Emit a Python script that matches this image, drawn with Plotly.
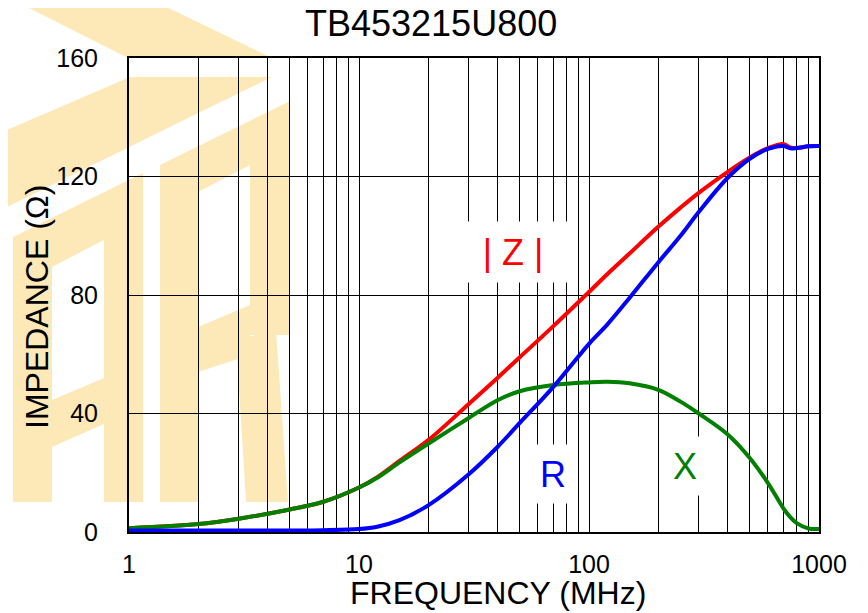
import plotly.graph_objects as go

# ---------------- data ----------------
freq_mhz = [1, 2, 3, 5, 7, 10, 12, 15, 20, 30, 40, 50, 70, 100, 120, 150,
            200, 250, 300, 400, 500, 600, 700, 750, 800, 900, 1000]
z_ohm = [1.3, 2.7, 4.5, 7.6, 10.2, 15.0, 18.5, 24.0, 31.0, 43.2, 52.0, 59.0,
         69.5, 81.0, 87.0, 94.0, 103.0, 109.5, 114.5, 121.5, 126.4, 129.6,
         131.0, 129.8, 129.6, 130.2, 130.3]
r_ohm = [0.5, 0.5, 0.5, 0.5, 0.6, 1.0, 1.8, 4.0, 9.0, 19.5, 28.7, 36.8,
         49.0, 63.5, 70.0, 79.0, 91.0, 100.0, 108.0, 119.5, 126.0, 129.3,
         130.3, 129.5, 129.6, 130.2, 130.3]
x_ohm = [1.3, 2.7, 4.5, 7.6, 10.2, 15.0, 18.3, 23.5, 29.8, 38.5, 44.5, 47.5,
         49.6, 50.5, 50.7, 50.2, 48.0, 44.0, 40.0, 33.0, 25.0, 16.5, 8.0,
         5.0, 3.0, 1.2, 1.0]

x_tick_vals = [1, 10, 100, 1000]
x_tick_text = ["1", "10", "100", "1000"]
y_tick_vals = [0, 40, 80, 120, 160]

title_text = "TB453215U800"
x_title = "FREQUENCY (MHz)"
y_title = "IMPEDANCE (Ω)"
series_labels = ["| Z |", "R", "X"]

# ---------------- layout helpers ----------------
PAGE_W, PAGE_H = 868, 613
OFF = 8                              # browser body margin
L, R_, T, B = 129, 819, 58, 532      # plot area in page pixels


def pxx(x):
    return (x - L) / (R_ - L)


def pxy(y):
    return (B - y) / (B - T)


FONT = "Liberation Sans, Arial, sans-serif"
RED, BLUE, GREEN = "#ff0000", "#0000ff", "#008000"

fig = go.Figure()
fig.add_trace(go.Scatter(x=freq_mhz, y=z_ohm, mode="lines",
                         line=dict(color=RED, width=4, shape="spline"),
                         hoverinfo="skip", showlegend=False))
fig.add_trace(go.Scatter(x=freq_mhz, y=x_ohm, mode="lines",
                         line=dict(color=GREEN, width=4, shape="spline"),
                         hoverinfo="skip", showlegend=False))
fig.add_trace(go.Scatter(x=freq_mhz, y=r_ohm, mode="lines",
                         line=dict(color=BLUE, width=4, shape="spline"),
                         hoverinfo="skip", showlegend=False))

# ---------------- watermark (decorative logo, pixel outlines) ----------------
wm_polys = [
    [(13, 0), (152, 0), (272, 58), (128, 58)],
    [(-5, 135), (130, 77), (272, 77), (-5, 213)],
    [(13, 502), (13, 237), (143, 173), (143, 502), (104, 502), (104, 240),
     (52, 267), (52, 502)],
    [(52, 400), (104, 378), (104, 424), (52, 447)],
    [(160, 502), (160, 165), (290, 101), (290, 335), (250, 335), (250, 165),
     (198, 192), (198, 502)],
    [(198, 327), (250, 305), (250, 355), (198, 372)],
    [(236, 340), (276, 330), (288, 502), (246, 502)],
]
shapes = []
for poly in wm_polys:
    path = "M " + " L ".join(f"{pxx(x):.4f},{pxy(y):.4f}" for x, y in poly) + " Z"
    shapes.append(dict(type="path", path=path, xref="paper", yref="paper",
                       fillcolor="#fce9b7", line=dict(width=0), layer="below"))

annotations = [
    dict(text=title_text, x=pxx(431), y=pxy(24), xref="paper", yref="paper",
         showarrow=False, font=dict(family=FONT, size=36, color="black"),
         xanchor="center", yanchor="middle"),
    dict(text=x_title, x=pxx(498), y=pxy(593), xref="paper", yref="paper",
         showarrow=False, font=dict(family=FONT, size=32, color="black"),
         xanchor="center", yanchor="middle"),
    dict(text=y_title, x=pxx(37), y=pxy(307), xref="paper", yref="paper",
         showarrow=False, textangle=-90,
         font=dict(family=FONT, size=32, color="black"),
         xanchor="center", yanchor="middle"),
    dict(text=series_labels[0], x=pxx(513), y=pxy(252), xref="paper", yref="paper",
         showarrow=False, font=dict(family=FONT, size=36, color=RED),
         bgcolor="white", width=110, height=58, xanchor="center", yanchor="middle"),
    dict(text=series_labels[1], x=pxx(553), y=pxy(474), xref="paper", yref="paper",
         showarrow=False, font=dict(family=FONT, size=36, color=BLUE),
         bgcolor="white", width=40, height=56, xanchor="center", yanchor="middle"),
    dict(text=series_labels[2], x=pxx(685), y=pxy(466), xref="paper", yref="paper",
         showarrow=False, font=dict(family=FONT, size=36, color=GREEN),
         bgcolor="white", width=44, height=56, xanchor="center", yanchor="middle"),
]

fig.update_layout(
    width=PAGE_W - OFF, height=PAGE_H - OFF,
    margin=dict(l=L - OFF, r=PAGE_W - R_, t=T - OFF, b=PAGE_H - B, pad=0),
    paper_bgcolor="white", plot_bgcolor="rgba(0,0,0,0)",
    font=dict(family=FONT, color="black"),
    shapes=shapes, annotations=annotations,
    showlegend=False,
)
fig.update_xaxes(
    type="log", range=[0, 3], tickmode="array", tickvals=x_tick_vals,
    ticktext=x_tick_text, tickfont=dict(size=25, family=FONT, color="black"),
    showgrid=True, gridcolor="black", gridwidth=1,
    minor=dict(dtick="D1", showgrid=True, gridcolor="black", gridwidth=1),
    showline=True, linecolor="black", linewidth=2, mirror=True,
    ticks="", ticklabelstandoff=9, zeroline=False, automargin=False,
)
fig.update_yaxes(
    range=[0, 160], tickmode="array", tickvals=y_tick_vals,
    tickfont=dict(size=25, family=FONT, color="black"),
    showgrid=True, gridcolor="black", gridwidth=1,
    showline=True, linecolor="black", linewidth=2, mirror=True,
    ticks="", ticklabelstandoff=24, zeroline=False, automargin=False,
)

fig.write_html("out.html")
